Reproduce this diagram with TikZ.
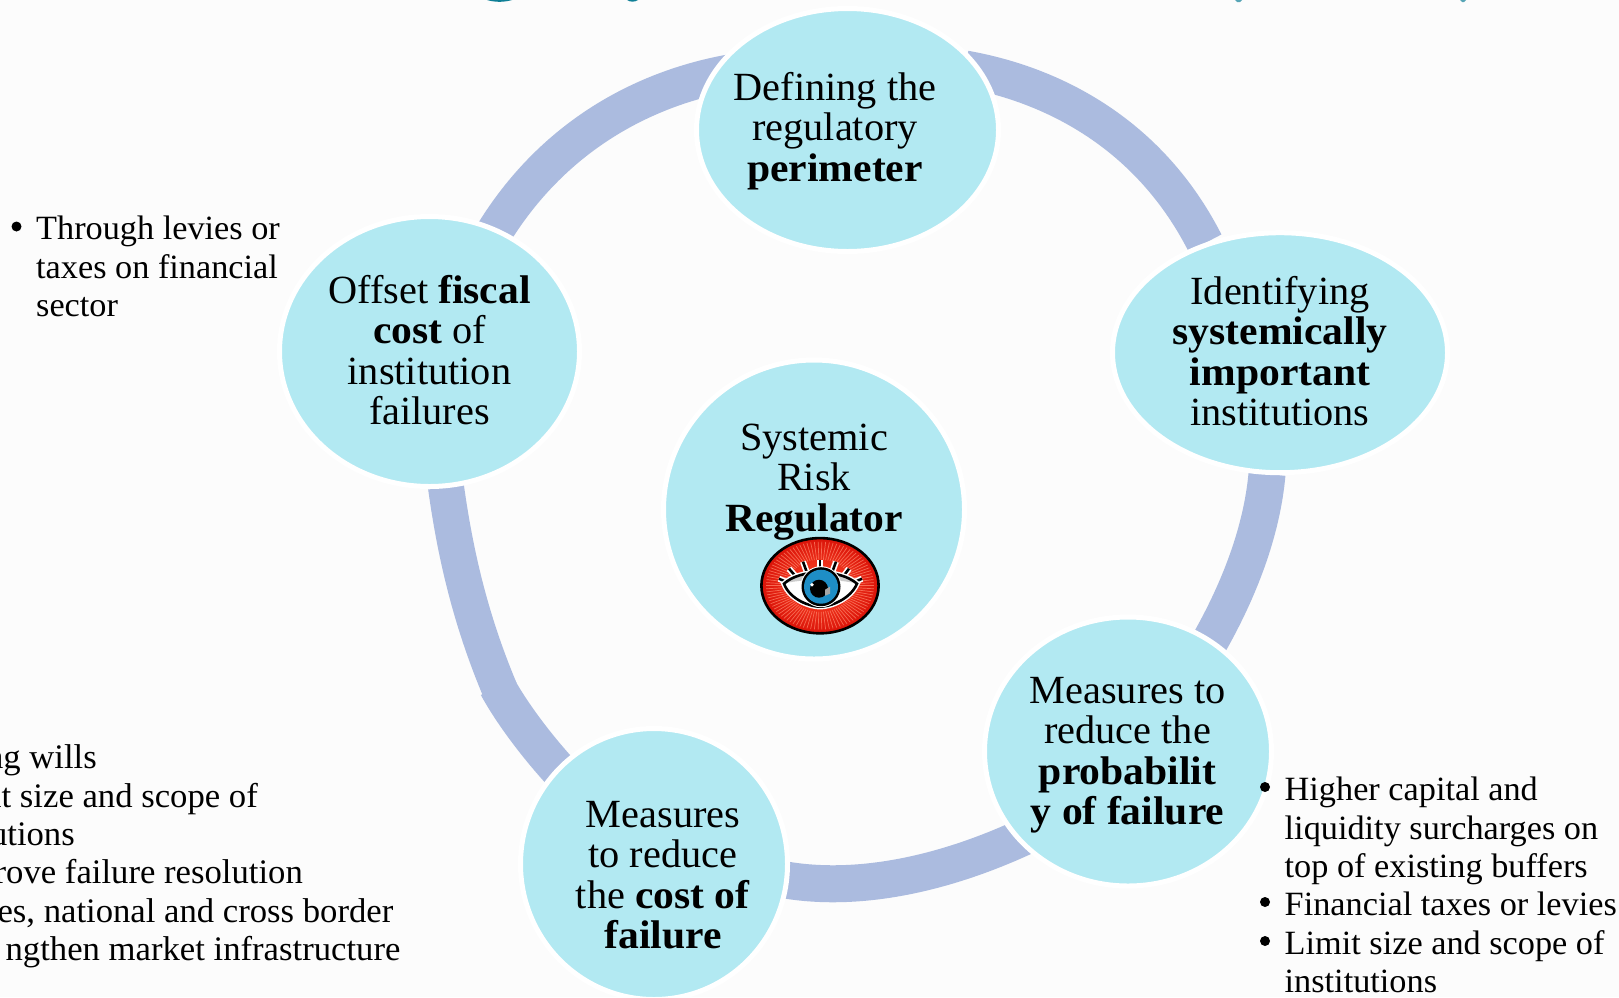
\documentclass[tikz,border=0pt]{standalone}
\usepackage{fontspec}
\setmainfont[FakeStretch=1.008,BoldFeatures={FakeStretch=1.04}]{Liberation Serif}
\usetikzlibrary{shapes.geometric,backgrounds}
\definecolor{pagebg}{HTML}{FCFCFC}
\definecolor{ringc}{HTML}{ABBBDF}
\definecolor{bubblec}{HTML}{B2E9F2}
\definecolor{teal}{HTML}{0F7F96}
\definecolor{irisc}{HTML}{1E8EC6}
\definecolor{redin}{HTML}{FF4A2A}
\definecolor{redout}{HTML}{D91208}
\definecolor{rayc}{HTML}{FF8A70}
\tikzset{
  x=1pt,y=-1pt,
  bubble/.style={ellipse,fill=bubblec,draw=white,line width=5pt,inner sep=0pt,outer sep=0pt},
  bubbletext/.style={align=center,inner sep=0pt,font=\fontsize{40}{40.5}\selectfont},
  ringarc/.style={draw=ringc,line width=37pt,line cap=butt},
  listtext/.style={anchor=base west,inner sep=0pt,font=\fontsize{34}{38.5}\selectfont},
  cuttext/.style={anchor=base east,inner sep=0pt,font=\fontsize{34.4}{38.5}\selectfont},
  bulletmark/.style={circle,fill=black,inner sep=0pt,minimum size=10pt},
}
\begin{document}
\begin{tikzpicture}
\useasboundingbox (0,0) rectangle (1619,997);
\clip (0,0) rectangle (1619,997);

% bubbles
\node[bubble,minimum width=302pt,minimum height=243pt] (top) at (847.5,130) {};
\node[bubble,minimum width=335pt,minimum height=240pt] (right) at (1280,352.7) {};
\node[bubble,minimum width=287pt,minimum height=269pt] (lowright) at (1128,751.5) {};
\node[bubble,minimum width=267pt,minimum height=271pt] (lowleft) at (654,864) {};
\node[bubble,minimum width=300pt,minimum height=270pt] (left) at (429.5,351.5) {};
\node[bubble,minimum width=301pt,minimum height=299pt] (centre) at (814,509.5) {};

% connector end points
\coordinate (a1s) at (735,72);
\coordinate (a1e) at (489,241);
\coordinate (a2s) at (965,69);
\coordinate (a2e) at (1205,243);
\coordinate (a3s) at (1267,474);
\coordinate (a3e) at (1205,650);
\coordinate (a4s) at (1030,834);
\coordinate (a4e) at (780,879);
\coordinate (a5s) at (566,778);
\coordinate (a5k) at (497,686);
\coordinate (a5j) at (500,690);
\coordinate (a5e) at (446,487);

\begin{scope}[on background layer]
  \fill[pagebg] (0,0) rectangle (1619,997);
  \draw[ringarc] (a1s) .. controls (640,88) and (548,140) .. (a1e);
  \draw[ringarc] (a2s) .. controls (1055,85) and (1150,135) .. (a2e);
  \draw[ringarc] (a3s) .. controls (1262,530) and (1240,590) .. (a3e);
  \draw[ringarc] (a4s) .. controls (950,872) and (860,894) .. (a4e);
  \draw[ringarc] (a5s) .. controls (535,745) and (510,710) .. (a5k);
  \draw[ringarc,line width=36pt] (a5j) .. controls (474,628) and (456.7,564.7) .. (a5e);
  % title descenders cut off by the top edge
  \fill[teal] (487,0) .. controls (495,2.4) and (504,2.4) .. (512,0) -- cycle;
  \fill[teal] (627,0) .. controls (630,2.2) and (635,2.2) .. (638,0) -- cycle;
  \fill[teal!70!white] (1235,0) -- (1242,0) -- (1240,2) -- (1237,2) -- cycle;
  \fill[teal!70!white] (1460,0) -- (1466,0) -- (1464,2) -- (1462,2) -- cycle;
\end{scope}

% bubble texts
\node[bubbletext] (ttop) at (835,131) {Defining the\\regulatory\\\textbf{perimeter}};
\node[bubbletext] (tright) at (1280,351) {Identifying\\\textbf{systemically}\\\textbf{important}\\institutions};
\node[bubbletext] (tlowright) at (1127.5,755) {Measures to\\reduce the\\\textbf{probabilit}\\\textbf{y of failure}};
\node[bubbletext] (tlowleft) at (663,875) {Measures\\to reduce\\the \textbf{cost of}\\\textbf{failure}};
\node[bubbletext] (tleft) at (429.5,350) {Offset \textbf{fiscal}\\\textbf{cost} of\\institution\\failures};
\node[bubbletext] (tcentre) at (814,482) {Systemic\\Risk\\\textbf{Regulator}};

% eye emblem
\begin{scope}[shift={(820,585.7)}]
  \begin{scope}
    \clip (0,0) ellipse [x radius=59,y radius=48];
    \shade[inner color=redin,outer color=redout] (0,0) ellipse [x radius=60,y radius=49];
    \foreach \a in {0,4,...,356}
      \draw[rayc,line width=0.7pt,opacity=.7] (\a:32 and 26) -- (\a:54 and 44);
  \end{scope}
  \draw[black,line width=2.6pt] (0,0) ellipse [x radius=58.6,y radius=47.6];
  \foreach \xa/\ya/\xb/\yb in {-32/-3/-41/-7,-24/-9/-31/-17,-13/-13/-17/-24,0/-15/0/-26,12/-13/16/-24,23/-9/29/-17,33/-3/42/-7}{
    \draw[white,line width=6pt] (\xa,\ya) -- (\xb,\yb);
  }
  \foreach \xa/\ya/\xb/\yb in {-32/-3/-41/-7,-24/-9/-31/-17,-13/-13/-17/-24,0/-15/0/-26,12/-13/16/-24,23/-9/29/-17,33/-3/42/-7}{
    \draw[black,line width=2.6pt] (\xa,\ya) -- (\xb,\yb);
  }
  \draw[white,line width=5.5pt,fill=white] (-36,-2) .. controls (-20,-17) and (20,-17) .. (37,-2) .. controls (30,14) and (10,21) .. (0,21) .. controls (-10,21) and (-30,14) .. (-36,-2) -- cycle;
  \fill[gray!40] (-36,-2) .. controls (-20,-17) and (20,-17) .. (37,-2) .. controls (20,-7) and (-20,-7) .. (-36,-2) -- cycle;
  \draw[black,line width=2.6pt] (-36,-2) .. controls (-20,-17) and (20,-17) .. (37,-2) .. controls (30,14) and (10,21) .. (0,21) .. controls (-10,21) and (-30,14) .. (-36,-2) -- cycle;
  \fill[white] (1,1) circle [radius=20.5];
  \fill[black] (1,1) circle [radius=19.5];
  \fill[irisc] (1,1) circle [radius=17];
  \fill[black] (-1,3) circle [radius=9];
  \fill[gray!70] (5,4) -- (10,1) -- (10,8) -- (5,10) -- cycle;
  \fill[white] (-8,-1) circle [radius=1.8];
\end{scope}

% side lists
\node[bulletmark] (b1) at (16.5,226.5) {};
\node[listtext] (l1a) at (36,239) {Through levies or};
\node[listtext] (l1b) at (36,278) {taxes on financial};
\node[listtext] (l1c) at (36,316) {sector};

\node[bulletmark] (b2) at (1265,787) {};
\node[listtext] (l2a) at (1284.5,800) {Higher capital and};
\node[listtext] (l2b) at (1284.5,839) {liquidity surcharges on};
\node[listtext] (l2c) at (1284.5,877) {top of existing buffers};
\node[bulletmark] (b3) at (1265,902) {};
\node[listtext] (l3) at (1284.5,915) {Financial taxes or levies};
\node[bulletmark] (b4) at (1265,941) {};
\node[listtext] (l4a) at (1284.5,954) {Limit size and scope of};
\node[listtext] (l4b) at (1284.5,992) {institutions};

\node[cuttext] (c1) at (97,768) {ng wills};
\node[cuttext] (c2) at (258,807) {it size and scope of};
\node[cuttext] (c3) at (75,845) {utions};
\node[cuttext] (c4) at (303,883) {rove failure resolution};
\node[cuttext] (c5) at (393.5,922) {es, national and cross border};
\node[cuttext] (c6) at (400.6,960) {ngthen market infrastructure};
\end{tikzpicture}
\end{document}
